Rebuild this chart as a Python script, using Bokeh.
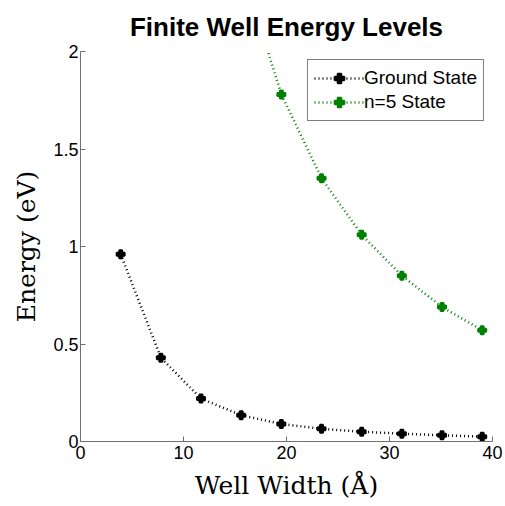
from bokeh.plotting import figure
from bokeh.models import Range1d, FixedTicker, Legend, LegendItem
from bokeh.embed import file_html
from bokeh.resources import INLINE

# Data
well_width = [3.9, 7.8, 11.7, 15.6, 19.5, 23.4, 27.3, 31.2, 35.1, 39.0]
ground_energy = [0.96, 0.43, 0.22, 0.135, 0.09, 0.065, 0.05, 0.04, 0.032, 0.025]
n5_width = [17.9, 19.5, 23.4, 27.3, 31.2, 35.1, 39.0]
n5_energy = [2.05, 1.78, 1.35, 1.06, 0.85, 0.69, 0.57]
n5_marker_width = [19.5, 23.4, 27.3, 31.2, 35.1, 39.0]
n5_marker_energy = [1.78, 1.35, 1.06, 0.85, 0.69, 0.57]

x_ticks = [0, 10, 20, 30, 40]
y_ticks = [0, 0.5, 1, 1.5, 2]
y_tick_labels = {0: "0", 0.5: "0.5", 1: "1", 1.5: "1.5", 2: "2"}

GREEN = "#008000"
AXIS_GRAY = "#707070"

p = figure(width=505, height=506, output_backend="svg", toolbar_location=None,
           x_range=Range1d(0, 40), y_range=Range1d(0, 2),
           min_border_left=80, min_border_right=13, min_border_top=50,
           min_border_bottom=65)

p.title.text = "Finite Well Energy Levels"
p.title.text_font = "Liberation Sans"
p.title.text_font_size = "26px"
p.title.text_font_style = "bold"
p.title.align = "center"
p.title.text_color = "black"
p.title.standoff = 19

p.grid.visible = False
p.outline_line_color = None
p.background_fill_color = "white"
p.border_fill_color = "white"

for ax in (p.xaxis, p.yaxis):
    ax.axis_line_color = AXIS_GRAY
    ax.major_tick_line_color = AXIS_GRAY
    ax.major_tick_in = 5
    ax.major_tick_out = 0
    ax.minor_tick_line_color = None
    ax.major_label_text_font = "Liberation Sans"
    ax.major_label_text_font_size = "18px"
    ax.major_label_text_color = "black"
    ax.axis_label_text_font = "DejaVu Serif"
    ax.axis_label_text_font_size = "25px"
    ax.axis_label_text_font_style = "normal"
    ax.axis_label_text_color = "black"

p.xaxis.ticker = FixedTicker(ticks=x_ticks)
p.yaxis.ticker = FixedTicker(ticks=y_ticks)
p.yaxis.major_label_overrides = y_tick_labels
p.xaxis.axis_label = "Well Width (Å)"
p.yaxis.axis_label = "Energy (eV)"
p.xaxis.major_label_standoff = 4
p.yaxis.major_label_standoff = 2
p.xaxis.axis_label_standoff = 9
p.yaxis.axis_label_standoff = 9

g_line = p.line(well_width, ground_energy, line_color="black", line_width=2.5, line_dash="1 3")
g_mark = p.scatter(well_width, ground_energy, marker="plus", size=8, fill_color="black",
                   line_color="black", line_width=2)
n_line = p.line(n5_width, n5_energy, line_color=GREEN, line_width=2.5, line_dash="1 3")
n_mark = p.scatter(n5_marker_width, n5_marker_energy, marker="plus", size=8, fill_color=GREEN,
                   line_color=GREEN, line_width=2)

legend = Legend(items=[LegendItem(label="Ground State", renderers=[g_line, g_mark]),
                       LegendItem(label="n=5 State", renderers=[n_line, n_mark])],
                location="top_right")
legend.label_text_font = "Liberation Sans"
legend.label_text_font_size = "19px"
legend.label_text_color = "black"
legend.border_line_color = "black"
legend.border_line_width = 1
legend.margin = 8
legend.padding = 6
legend.spacing = 0
legend.glyph_width = 50
legend.label_standoff = 0
legend.label_height = 24
legend.glyph_height = 24
p.add_layout(legend)

open("out.html", "w").write(file_html(p, INLINE))
